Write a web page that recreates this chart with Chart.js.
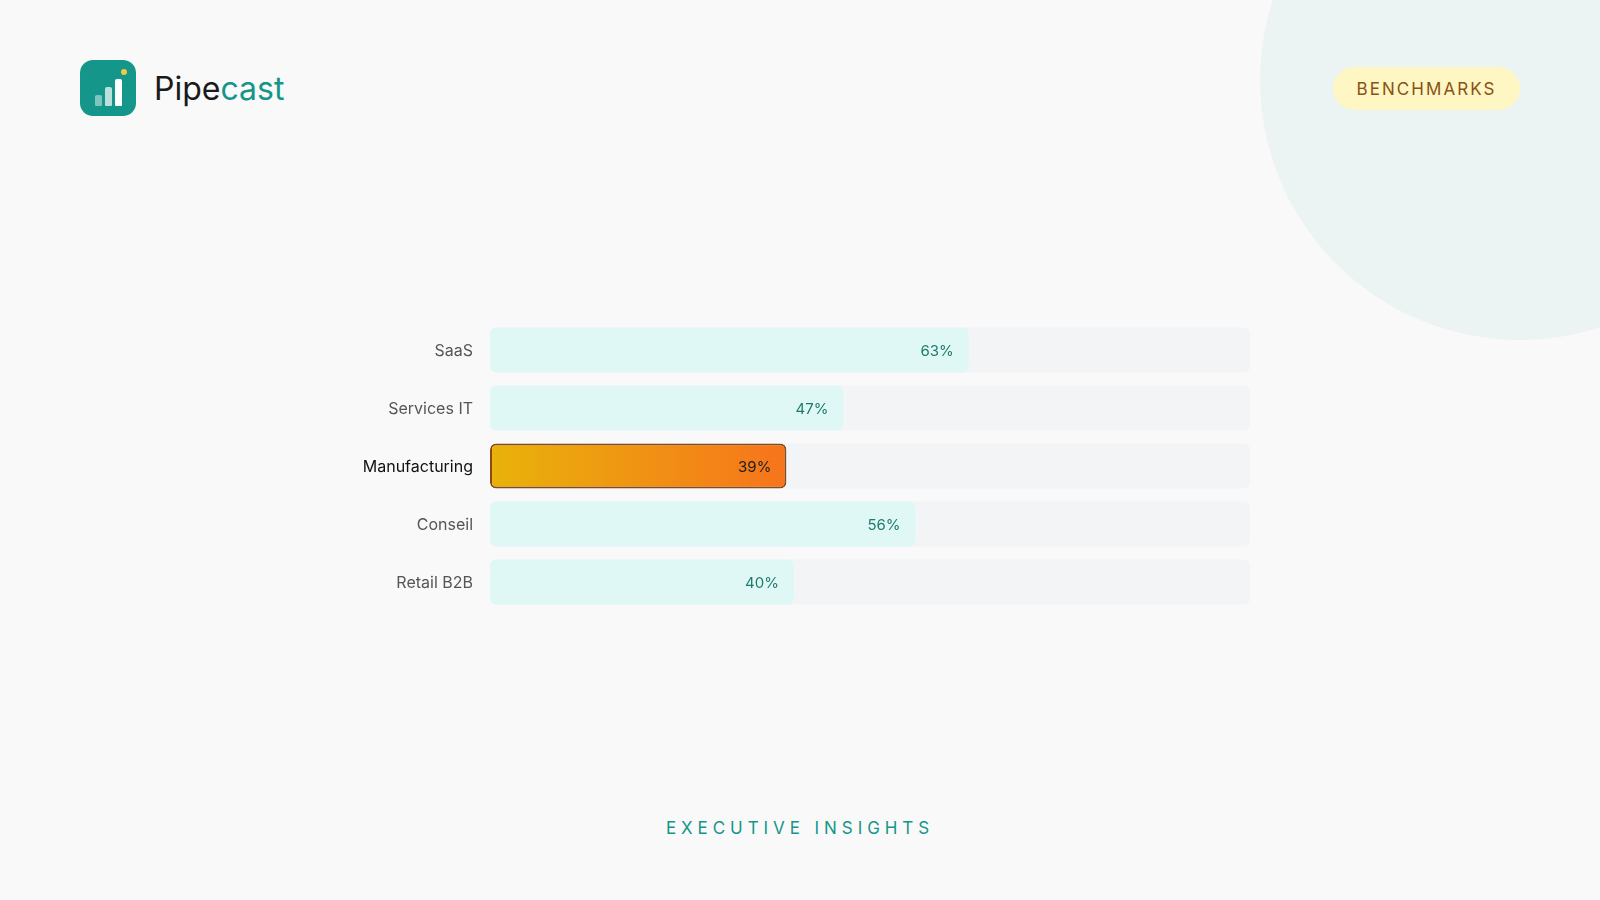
<!DOCTYPE html>
<html lang="fr">
<head>
<meta charset="utf-8">
<title>Pipecast – Benchmarks</title>
<script src="https://cdn.jsdelivr.net/npm/chart.js@4.4.1/dist/chart.umd.min.js"></script>
<style>
  html, body {
    margin: 0;
    padding: 0;
    width: 1600px;
    height: 900px;
    overflow: hidden;
    background: #f9f9f9;
    font-family: Inter, "Noto Sans", sans-serif;
  }
  .blob {
    position: absolute;
    width: 520px;
    height: 520px;
    border-radius: 50%;
    top: -180px;
    right: -180px;
    background: #ebf4f3;
  }
  .logo {
    position: absolute;
    left: 80px;
    top: 60px;
    display: flex;
    align-items: center;
    gap: 18px;
  }
  .logo-icon {
    position: relative;
    width: 56px;
    height: 56px;
    border-radius: 13px;
    background: #14968a;
  }
  .logo-icon span {
    position: absolute;
    bottom: 10px;
    width: 7px;
    border-radius: 2px 2px 1px 1px;
  }
  .logo-icon .b1 { left: 15px; height: 11px; background: rgba(255,255,255,.45); }
  .logo-icon .b2 { left: 25px; height: 19px; background: rgba(255,255,255,.7); }
  .logo-icon .b3 { left: 35px; height: 27px; background: #fff; }
  .logo-icon .dot {
    position: absolute;
    left: 41px;
    top: 9px;
    width: 6px;
    height: 6px;
    border-radius: 50%;
    background: #f5c842;
  }
  .logo-text {
    font-size: 32px;
    color: #1a1a1a;
  }
  .logo-text em { font-style: normal; color: #14968a; }
  .pill {
    position: absolute;
    left: 1333px;
    top: 67px;
    width: 187px;
    height: 43px;
    border-radius: 22px;
    background: #fef6c3;
    color: #8a5214;
    font-size: 17px;
    letter-spacing: 0.12em;
    display: flex;
    align-items: center;
    justify-content: center;
    box-sizing: border-box;
  }
  .chart-box {
    position: absolute;
    left: 280px;
    top: 321px;
    width: 970px;
    height: 290px;
  }
  .footer {
    position: absolute;
    left: 0;
    width: 1600px;
    top: 818px;
    text-align: center;
    font-size: 17px;
    color: #14968a;
    letter-spacing: 0.29em;
  }
</style>
</head>
<body>
<div class="blob"></div>

<div class="logo">
  <div class="logo-icon">
    <span class="b1"></span><span class="b2"></span><span class="b3"></span>
    <div class="dot"></div>
  </div>
  <div class="logo-text">Pipe<em>cast</em></div>
</div>

<div class="pill">BENCHMARKS</div>

<div class="chart-box"><canvas id="graficoBench"></canvas></div>

<div class="footer">EXECUTIVE INSIGHTS</div>

<script>
// données du graphique
const categories = ['SaaS', 'Services IT', 'Manufacturing', 'Conseil', 'Retail B2B'];
const taux = [63, 46.5, 39, 56, 40];
const piste = [100, 100, 100, 100, 100];
const highlight = 'Manufacturing';

const hiIndex = categories.indexOf(highlight);

// dégradé pour la barre mise en avant
function barFill(ctx) {
  if (ctx.dataIndex !== hiIndex) return '#e0f8f5';
  const chart = ctx.chart;
  const area = chart.chartArea;
  if (!area) return '#f09412';
  const xs = chart.scales.x;
  const g = chart.ctx.createLinearGradient(xs.getPixelForValue(0), 0, xs.getPixelForValue(taux[hiIndex]), 0);
  g.addColorStop(0, '#e8b30a');
  g.addColorStop(1, '#f7741c');
  return g;
}

// étiquettes de valeur au bout des barres
const valueLabels = {
  id: 'valueLabels',
  afterDatasetsDraw(chart) {
    const meta = chart.getDatasetMeta(0);
    const c = chart.ctx;
    c.save();
    c.font = '15px Inter, "Noto Sans", sans-serif';
    c.textAlign = 'right';
    c.textBaseline = 'middle';
    meta.data.forEach((bar, i) => {
      c.fillStyle = i === hiIndex ? '#1c1c1c' : '#1f7a6d';
      c.fillText(Math.round(taux[i]) + '%', bar.x - 15, bar.y + 1);
    });
    c.restore();
  }
};

const ctx = document.getElementById('graficoBench');
new Chart(ctx, {
  type: 'bar',
  data: {
    labels: categories,
    datasets: [
      {
        label: 'Taux',
        data: taux,
        backgroundColor: barFill,
        borderColor: c => c.dataIndex === hiIndex ? '#8b4a12' : 'rgba(0,0,0,0)',
        borderWidth: c => c.dataIndex === hiIndex ? 2 : 0,
        borderRadius: 6,
        borderSkipped: false,
        grouped: false,
        order: 0
      },
      {
        label: 'Piste',
        data: piste,
        backgroundColor: '#f3f4f6',
        borderWidth: 0,
        borderRadius: 6,
        borderSkipped: false,
        grouped: false,
        order: 1
      }
    ]
  },
  options: {
    indexAxis: 'y',
    responsive: true,
    maintainAspectRatio: false,
    animation: false,
    layout: { padding: 0 },
    categoryPercentage: 1,
    barPercentage: 0.776,
    scales: {
      x: {
        display: false,
        min: 0,
        max: 100
      },
      y: {
        grid: { display: false, drawTicks: false },
        border: { display: false },
        // largeur fixe de l'axe, sans marge verticale
        afterFit: s => {
          s.width = 210;
          s.paddingTop = 0;
          s.paddingBottom = 0;
        },
        ticks: {
          padding: 17,
          labelOffset: 1,
          color: c => c.index === hiIndex ? '#111111' : '#555555',
          font: {
            family: 'Inter, "Noto Sans", sans-serif',
            size: 16
          }
        }
      }
    },
    plugins: {
      legend: { display: false },
      tooltip: { enabled: false },
      title: { display: false }
    }
  },
  plugins: [valueLabels]
});
</script>
</body>
</html>
